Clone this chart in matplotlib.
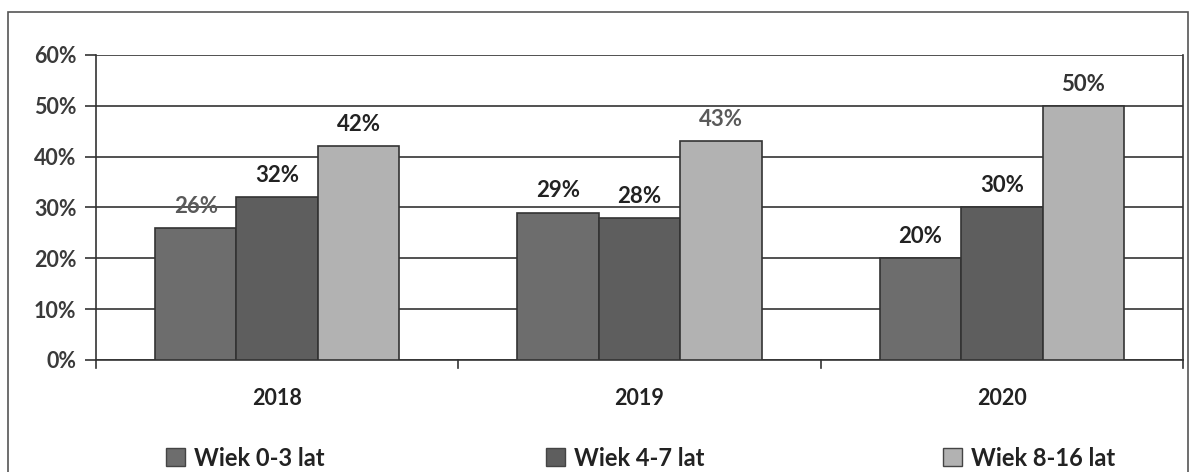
import numpy as np
import matplotlib.pyplot as plt
from matplotlib.patches import Rectangle

plt.rcParams['font.family'] = ['Lato', 'DejaVu Sans']

years = ["2018", "2019", "2020"]
series = ["Wiek 0-3 lat", "Wiek 4-7 lat", "Wiek 8-16 lat"]
age_0_3 = [26, 29, 20]
age_4_7 = [32, 28, 30]
age_8_16 = [42, 43, 50]

colors = ["#6d6d6d", "#5e5e5e", "#b2b2b2"]
# label colour per series, per year (two labels are printed lighter)
label_colors = [["#5a5a5a", "#222222", "#222222"],
                ["#222222", "#222222", "#222222"],
                ["#222222", "#5a5a5a", "#333333"]]

fig = plt.figure(figsize=(11.92, 4.72), dpi=100)
ax = fig.add_axes([96 / 1192, 1 - 360 / 472, (1183 - 96) / 1192, 305 / 472])

# outer frame
fig.add_artist(Rectangle((8 / 1192, -0.1), 1180 / 1192, 1.1 - 12 / 472,
                         transform=fig.transFigure, fill=False,
                         edgecolor="#555555", linewidth=1.2))

x = np.arange(len(years))
w = 0.225
values = [age_0_3, age_4_7, age_8_16]
for i, vals in enumerate(values):
    bars = ax.bar(x + (i - 1) * w, vals, w, color=colors[i], edgecolor="#333333",
                  linewidth=1.2, label=series[i], zorder=3)
    for j, b in enumerate(bars):
        ax.annotate(f"{vals[j]}%", (b.get_x() + b.get_width() / 2, vals[j]),
                    xytext=(0, 8), textcoords="offset points", ha="center",
                    va="bottom", fontsize=16, fontweight="bold",
                    color=label_colors[i][j])

ax.set_xlim(-0.5, 2.5)
ax.set_ylim(0, 60)
ax.set_yticks(range(0, 61, 10))
ax.set_yticklabels([f"{v}%" for v in range(0, 61, 10)], fontsize=15.5,
                   fontweight="bold", color="#3a3a3a")
ax.yaxis.grid(True, color="#333333", linewidth=1.2, zorder=0)
ax.tick_params(axis="y", length=8, width=1.2, color="#333333", pad=6)

ax.set_xticks(x)
ax.set_xticklabels(years, fontsize=15.5, fontweight="bold", color="#222222")
ax.tick_params(axis="x", length=0, pad=20)
for b in [-0.5, 0.5, 1.5, 2.5]:
    ax.plot([b, b], [0, -1.6], color="#333333", linewidth=1.2, clip_on=False)

for s in ["left", "bottom", "right"]:
    ax.spines[s].set_color("#333333")
    ax.spines[s].set_linewidth(1.2)
ax.spines["top"].set_visible(False)

# legend: three separate entries spread across the bottom
legend_x = [166, 546, 943]
for c, name, lx in zip(colors, series, legend_x):
    h = Rectangle((0, 0), 1, 1, facecolor=c, edgecolor="#444444")
    leg = fig.legend([h], [name], loc="center left",
                     bbox_to_anchor=(lx / 1192, 1 - 458 / 472), frameon=False,
                     handlelength=0.8, handleheight=0.8, handletextpad=0.4,
                     borderpad=0, borderaxespad=0,
                     prop={"weight": "bold", "size": 17})
    leg.get_texts()[0].set_color("#222222")

plt.savefig("out.png", dpi=100)
